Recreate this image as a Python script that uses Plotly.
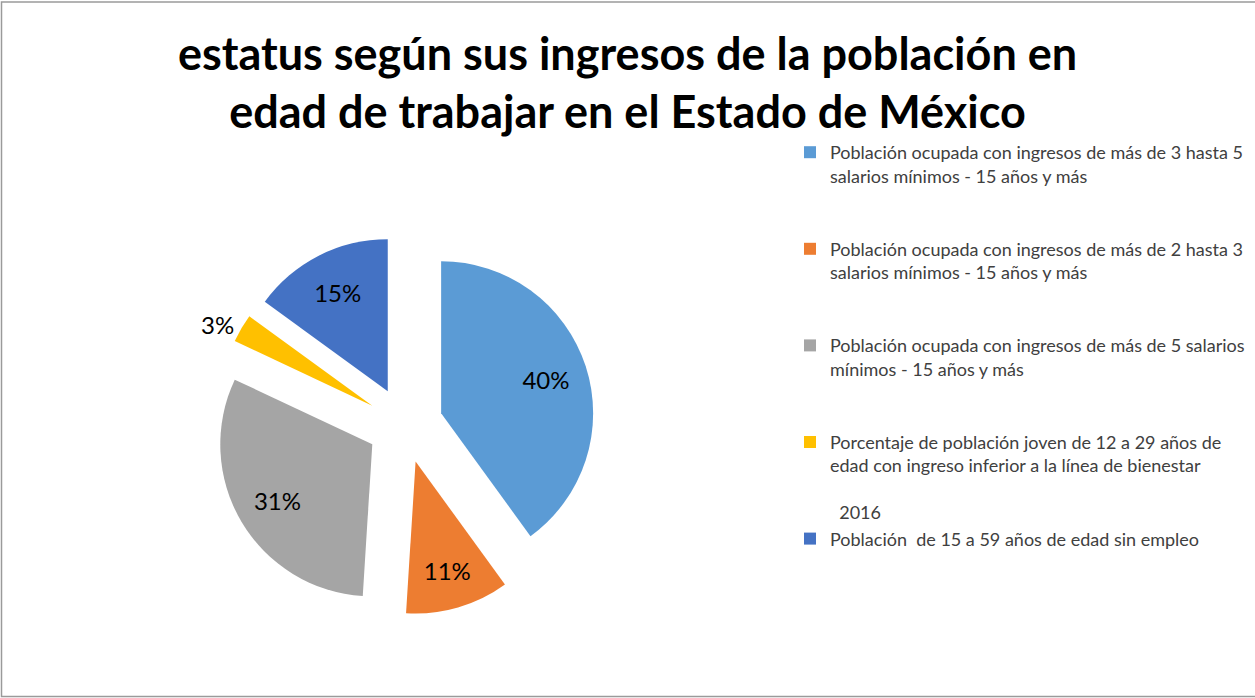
import plotly.graph_objects as go

labels = [
    "Población ocupada con ingresos de más de 3 hasta 5<br>salarios mínimos - 15 años y más<br> <br> ",
    "Población ocupada con ingresos de más de 2 hasta 3<br>salarios mínimos - 15 años y más<br> <br> ",
    "Población ocupada con ingresos de más de 5 salarios<br>mínimos - 15 años y más<br> <br> ",
    "Porcentaje de población joven de 12 a 29 años de<br>edad con ingreso inferior a la línea de bienestar<br> <br>  2016",
    "Población  de 15 a 59 años de edad sin empleo",
]
values = [40, 11, 31, 3, 15]
colors = ["#5B9BD5", "#ED7D31", "#A5A5A5", "#FFC000", "#4472C4"]
textpos = ["inside", "inside", "inside", "outside", "inside"]

W, H = 1255, 698
cx, cy, half = 405, 425, 190
dom = dict(x=[(cx - half) / W, (cx + half) / W],
           y=[1 - (cy + half) / H, 1 - (cy - half) / H])

# filled slices (legend source)
pie = go.Pie(
    labels=labels, values=values,
    marker=dict(colors=colors, line=dict(width=0)),
    sort=False, direction="clockwise", rotation=0,
    pull=[0.25] * 5, textinfo="none", domain=dom,
    hoverinfo="label+percent",
)
# transparent ring carrying the percentage labels
ring = go.Pie(
    labels=labels, values=values,
    marker=dict(colors=["rgba(0,0,0,0)"] * 5, line=dict(width=0)),
    sort=False, direction="clockwise", rotation=0,
    pull=[0.25] * 5, hole=0.45,
    textinfo="percent", texttemplate="%{percent:.0%}",
    textposition=textpos, insidetextorientation="horizontal",
    textfont=dict(family="Lato", size=24, color="black"),
    domain=dom, showlegend=False, hoverinfo="skip",
)

fig = go.Figure([pie, ring])

fig.update_layout(
    width=W, height=H,
    margin=dict(l=0, r=0, t=0, b=0),
    paper_bgcolor="white",
    plot_bgcolor="white",
    title=dict(
        text="estatus según sus ingresos de la población en<br>edad de trabajar en el Estado de México",
        font=dict(family="Lato", size=45, color="black", weight="bold"),
        x=0.5, xanchor="center", y=0.90, yanchor="top",
    ),
    legend=dict(
        x=790 / W, xanchor="left",
        y=1 - 134 / H, yanchor="top",
        font=dict(family="Lato", size=18, color="#404040"),
        valign="top",
        bgcolor="rgba(0,0,0,0)",
    ),
    shapes=[dict(type="rect", xref="paper", yref="paper",
                 x0=1.5 / W, x1=1.01, y0=1 - 696.5 / H, y1=1 - 2 / H,
                 line=dict(color="#9a9a9a", width=1.5))],
)

fig.write_html("out.html", config={"displayModeBar": False},
               post_script="document.body.style.margin='0';")
